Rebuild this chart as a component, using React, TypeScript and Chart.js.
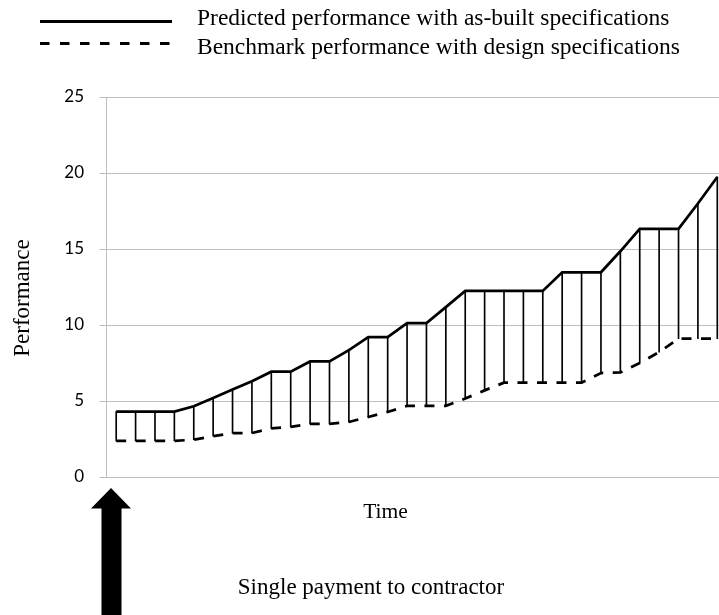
import React, { useEffect, useRef } from "react";
import { Chart, registerables } from "chart.js";

Chart.register(...registerables);

// Time periods (categories along the x axis)
const periods = [
  "1", "2", "3", "4", "5", "6", "7", "8", "9", "10", "11", "12", "13", "14", "15", "16",
  "17", "18", "19", "20", "21", "22", "23", "24", "25", "26", "27", "28", "29", "30", "31", "32",
];

// Predicted performance with as-built specifications (solid line)
const predicted = [
  4.3, 4.3, 4.3, 4.3, 4.65, 5.2, 5.75, 6.3, 6.93, 6.93, 7.6, 7.6, 8.35, 9.2, 9.2, 10.13,
  10.13, 11.18, 12.24, 12.24, 12.24, 12.24, 12.24, 13.47, 13.47, 13.47, 14.85, 16.32, 16.32, 16.32, 17.99, 19.74,
];

// Benchmark performance with design specifications (dashed line)
const benchmark = [
  2.37, 2.37, 2.37, 2.37, 2.46, 2.68, 2.89, 2.89, 3.2, 3.3, 3.5, 3.5, 3.62, 3.95, 4.28, 4.68,
  4.68, 4.68, 5.16, 5.7, 6.21, 6.21, 6.21, 6.21, 6.21, 6.84, 6.88, 7.5, 8.22, 9.1, 9.1, 9.1,
];

// Axis range / ticks
const yMin = 0;
const yMax = 25;
const yStep = 5;

// Texts
const legendLabels = [
  "Predicted performance with as-built specifications",
  "Benchmark performance with design specifications",
];
const yTitle = "Performance";
const xTitle = "Time";
const noteText = "Single payment to contractor";

const SERIF = "'Liberation Serif', 'Times New Roman', serif";

const annotations = {
  id: "annotations",
  afterDraw(chart: any) {
    const ctx: CanvasRenderingContext2D = chart.ctx;
    ctx.save();
    // legend
    ctx.strokeStyle = "#000";
    ctx.lineWidth = 3;
    ctx.lineCap = "butt";
    ctx.beginPath();
    ctx.moveTo(40, 21.5);
    ctx.lineTo(172, 21.5);
    ctx.stroke();
    ctx.setLineDash([9.5, 10.5]);
    ctx.beginPath();
    ctx.moveTo(40, 43.5);
    ctx.lineTo(170, 43.5);
    ctx.stroke();
    ctx.setLineDash([]);

    ctx.fillStyle = "#000";
    ctx.font = `23.5px ${SERIF}`;
    ctx.textAlign = "left";
    ctx.textBaseline = "alphabetic";
    ctx.fillText(legendLabels[0], 197, 25);
    ctx.fillText(legendLabels[1], 197, 54);

    // y axis title
    ctx.save();
    ctx.translate(22.5, 298);
    ctx.rotate(-Math.PI / 2);
    ctx.textAlign = "center";
    ctx.textBaseline = "middle";
    ctx.font = `23px ${SERIF}`;
    ctx.fillText(yTitle, 0, 0);
    ctx.restore();

    // x axis title
    ctx.textAlign = "center";
    ctx.textBaseline = "alphabetic";
    ctx.font = `21.5px ${SERIF}`;
    ctx.fillText(xTitle, 385.5, 517.5);

    // note
    ctx.font = `23px ${SERIF}`;
    ctx.fillText(noteText, 371, 594);

    // arrow
    ctx.beginPath();
    ctx.moveTo(111, 488);
    ctx.lineTo(131, 508.5);
    ctx.lineTo(121.5, 508.5);
    ctx.lineTo(121.5, 620);
    ctx.lineTo(101.5, 620);
    ctx.lineTo(101.5, 508.5);
    ctx.lineTo(91, 508.5);
    ctx.closePath();
    ctx.fill();
    ctx.restore();
  },
};

export default function App() {
  const ref = useRef<HTMLCanvasElement | null>(null);

  useEffect(() => {
    if (!ref.current) return;
    const chart = new Chart(ref.current, {
      type: "line",
      data: {
        labels: periods,
        datasets: [
          {
            type: "line",
            label: legendLabels[0],
            data: predicted,
            borderColor: "#000",
            borderWidth: 2.75,
            pointRadius: 0,
            tension: 0,
            fill: false,
            order: 1,
          },
          {
            type: "line",
            label: legendLabels[1],
            data: benchmark,
            borderColor: "#000",
            borderWidth: 2.75,
            borderDash: [10, 9.5],
            pointRadius: 0,
            tension: 0,
            fill: false,
            order: 2,
          },
          {
            type: "bar",
            label: "gap",
            data: periods.map((_, i) => [benchmark[i], predicted[i]]),
            backgroundColor: "#000",
            barThickness: 1,
            borderWidth: 0,
            order: 3,
          } as any,
        ],
      },
      options: {
        responsive: false,
        animation: false,
        devicePixelRatio: 1,
        events: [],
        layout: { padding: { top: 97, bottom: 138, left: 0, right: 0 } },
        plugins: { legend: { display: false }, tooltip: { enabled: false } },
        scales: {
          x: {
            type: "category",
            offset: true,
            grid: { display: false },
            border: { display: false },
            ticks: { display: false },
            afterFit: (a: any) => {
              a.height = 0;
            },
          },
          y: {
            type: "linear",
            min: yMin,
            max: yMax,
            ticks: {
              stepSize: yStep,
              padding: 15.5,
              color: "#000",
              font: { family: "Lato", size: 17 },
            },
            grid: { color: "#bfbfbf", tickLength: 7, tickColor: "#bfbfbf", lineWidth: 1 },
            border: { color: "#bfbfbf", width: 1 },
            afterFit: (a: any) => {
              a.width = 106.5;
            },
          },
        },
      } as any,
      plugins: [annotations],
    });
    return () => chart.destroy();
  }, []);

  return (
    <div
      style={{
        position: "fixed",
        left: 0,
        top: 0,
        width: 719,
        height: 615,
        overflow: "hidden",
        background: "#fff",
      }}
    >
      <canvas ref={ref} width={727} height={615} style={{ display: "block", width: 727, height: 615 }} />
    </div>
  );
}
